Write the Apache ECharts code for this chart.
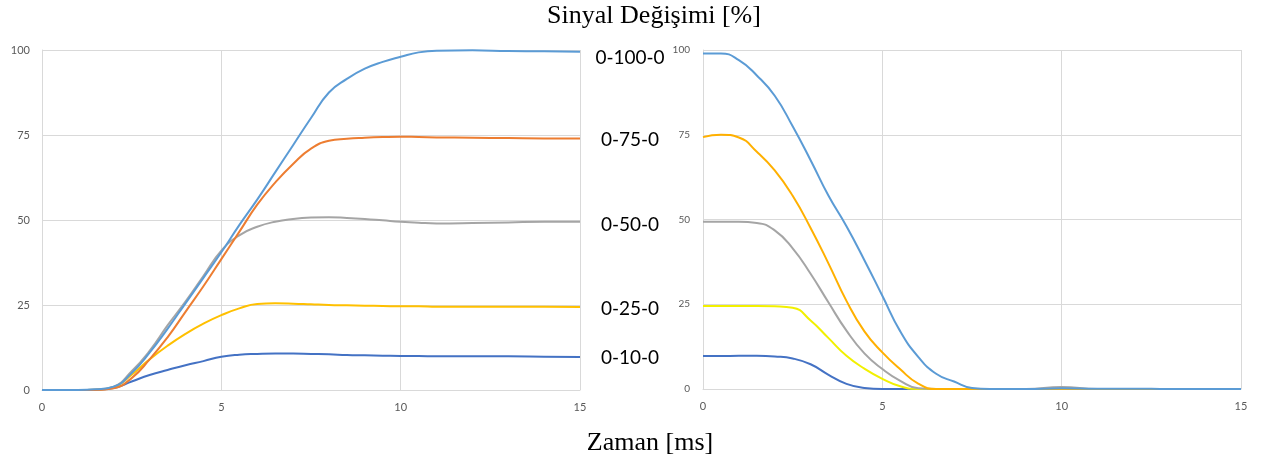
<!DOCTYPE html>
<html>
<head>
<meta charset="utf-8">
<script src="https://cdn.jsdelivr.net/npm/echarts@6/dist/echarts.min.js"></script>
<style>html,body{margin:0;padding:0;background:#fff}#c{width:1263px;height:465px}</style>
</head>
<body>
<div id="c"></div>
<script>
// ---- data ----
const titleText = "Sinyal Değişimi [%]";
const xTitle = "Zaman [ms]";
const seriesNames = ["0-100-0", "0-75-0", "0-50-0", "0-25-0", "0-10-0"];

// rise (left panel)
const riseX = [0,0.5,1,1.5,2,2.5,3,3.5,4,4.5,5,5.5,6,6.5,7,7.5,8,8.5,9,9.5,10,10.5,11,12,13,14,15];
const rise100 = [0,0,0,0.2,1,5,11,18,25.5,33,40.5,48.5,56,64,72,80,87.5,91.5,94.5,96.5,98,99.3,99.8,99.9,99.7,99.6,99.5];
const rise75  = [0,0,0,0,0.5,3.5,9,15.5,23,30.5,38.5,46.5,54.5,61,66.5,71,73.3,73.9,74.2,74.4,74.5,74.4,74.3,74.2,74.1,74,74];
const rise50  = [0,0,0,0.1,1,5.5,11.5,19,26,33.5,41,45.5,48,49.5,50.3,50.7,50.8,50.6,50.3,49.9,49.5,49.2,49,49.1,49.3,49.5,49.5];
const rise25  = [0,0,0,0.1,0.8,4.5,9,13,16.5,19.5,22,24,25.3,25.5,25.4,25.2,25,24.9,24.8,24.7,24.6,24.6,24.5,24.5,24.5,24.5,24.4];
const rise10  = [0,0,0,0.1,0.6,2.5,4.4,5.9,7.3,8.5,9.8,10.4,10.6,10.7,10.7,10.6,10.5,10.3,10.2,10.1,10,10,9.9,9.9,9.9,9.8,9.7];

// fall (right panel)
const fallX = [0,0.5,1,1.5,2,2.5,3,3.5,4,4.5,5,5.5,6,6.5,7,7.5,8,9,10,11,12,13,14,15];
const fall100 = [99,99,97,92.5,86.5,77.5,67.5,57,48,38,27.5,17,9.5,4.5,2.2,0.3,0,0,0.2,0.1,0.1,0,0,0];
const fall75  = [74.3,75,74.2,70,64.5,57,47.5,37,26,17,10.8,5.8,1.6,0,0,0,0,0,0,0,0,0,0,0];
const fall50  = [49.3,49.3,49.3,49,46.8,41.5,34,25.5,17.2,10.5,5.9,2.4,0.2,0,0,0,0,0,0.6,0,0,0,0,0];
const fall25  = [24.5,24.5,24.5,24.5,24.4,24,20.2,15,9.8,6,3,0.8,0,0,0,0,0,0,0,0,0,0,0,0];
const fall10  = [9.7,9.7,9.8,9.8,9.6,9,7.3,4.2,1.5,0.3,0,0,0,0,0,0,0,0,0,0,0,0,0,0];

const xTicks = [0, 5, 10, 15];
const yTicks = [0, 25, 50, 75, 100];

// ---- chart ----
const riseColors = ["#5B9BD5", "#ED7D31", "#A5A5A5", "#FFC000", "#4472C4"];
const fallColors = ["#5B9BD5", "#FFB000", "#A5A5A5", "#F2F000", "#4472C4"];
const pair = (xs, ys) => xs.map((x, i) => [x, ys[i]]);

const gridLine = { show: true, lineStyle: { color: "#d9d9d9", width: 1 } };
function xAxis(idx, fs) {
  return {
    type: "value", gridIndex: idx, min: xTicks[0], max: xTicks[xTicks.length - 1], interval: 5,
    axisLine: { show: true, lineStyle: { color: "#d9d9d9" } }, axisTick: { show: false },
    splitLine: gridLine,
    axisLabel: { color: "#595959", fontFamily: "Lato", fontSize: fs, margin: 12 }
  };
}
function yAxis(idx, fs, margin) {
  return {
    type: "value", gridIndex: idx, min: yTicks[0], max: yTicks[yTicks.length - 1], interval: 25,
    axisLine: { show: true, lineStyle: { color: "#d9d9d9" } }, axisTick: { show: false },
    splitLine: gridLine,
    axisLabel: { color: "#595959", fontFamily: "Lato", fontSize: fs, margin: margin }
  };
}
const riseData = [rise100, rise75, rise50, rise25, rise10];
const fallData = [fall100, fall75, fall50, fall25, fall10];
const series = [];
riseData.forEach((d, i) => series.push({
  name: seriesNames[i], type: "line", xAxisIndex: 0, yAxisIndex: 0, data: pair(riseX, d),
  smooth: 0.5, showSymbol: false, lineStyle: { width: 2, color: riseColors[i] }, itemStyle: { color: riseColors[i] }, z: 10 - i
}));
fallData.forEach((d, i) => series.push({
  name: seriesNames[i], type: "line", xAxisIndex: 1, yAxisIndex: 1, data: pair(fallX, d),
  smooth: 0.5, showSymbol: false, lineStyle: { width: 2, color: fallColors[i] }, itemStyle: { color: fallColors[i] }, z: 10 - i
}));

const labelY = [58, 140, 225, 309, 358];
const graphics = [
  { type: "text", x: 654, y: 16, style: { text: titleText, font: "26px 'Liberation Serif'", fill: "#000", textAlign: "center", textVerticalAlign: "middle" } },
  { type: "text", x: 650, y: 443, style: { text: xTitle, font: "26px 'Liberation Serif'", fill: "#000", textAlign: "center", textVerticalAlign: "middle" } }
];
seriesNames.forEach((n, i) => graphics.push({
  type: "text", x: 630, y: labelY[i], style: { text: n, font: "19px Lato", fill: "#000", textAlign: "center", textVerticalAlign: "middle" }
}));

const chart = echarts.init(document.getElementById("c"), null, { renderer: "canvas" });
chart.setOption({
  animation: false,
  backgroundColor: "#fff",
  grid: [
    { left: 42, right: 683, top: 50, bottom: 75 },
    { left: 703, right: 22, top: 50, bottom: 76 }
  ],
  xAxis: [xAxis(0, 11), xAxis(1, 11)],
  yAxis: [yAxis(0, 11, 12), yAxis(1, 10, 13)],
  series: series,
  graphic: graphics
});
</script>
</body>
</html>
